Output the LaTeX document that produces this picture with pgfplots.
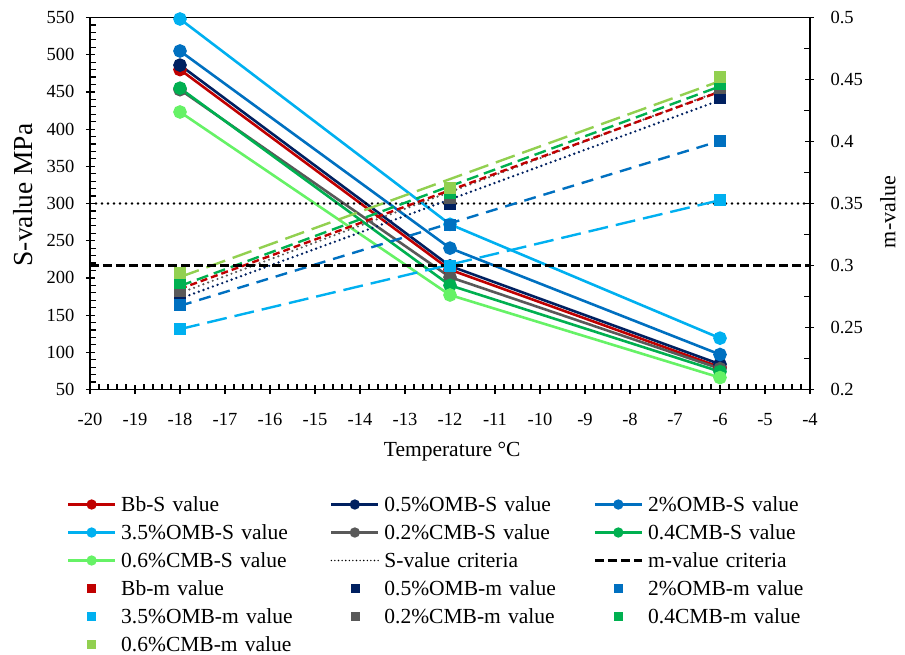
\documentclass[border=0pt]{standalone}
\usepackage{fontspec}
\setmainfont{Liberation Serif}
\usepackage{pgfplots}
\pgfplotsset{compat=1.18}

\definecolor{cBb}{HTML}{C00000}
\definecolor{cOa}{HTML}{002060}
\definecolor{cOb}{HTML}{0070C0}
\definecolor{cOc}{HTML}{00B0F0}
\definecolor{cCa}{HTML}{595959}
\definecolor{cCb}{HTML}{00B050}
\definecolor{cCc}{HTML}{66F266}
\definecolor{cCm}{HTML}{92D050}

\pgfplotsset{
  common/.style={
    scale only axis, width=720pt, height=372pt,
    at={(0pt,0pt)}, anchor=south west,
    xmin=-20, xmax=-4, clip=false,
    tick align=inside, major tick length=9pt, minor tick length=6pt,
    tick style={black, line width=1.2pt},
    axis line style={black, line width=1.2pt},
    /pgf/number format/assume math mode=true,
    tick label style={font=\fontsize{18.5}{22}\selectfont},
  },
  sline/.style={line width=2.6pt, mark=*, mark size=5.5pt, mark options={solid}},
  slegend/.style={legend image code/.code={
      \draw[line width=2.2pt, mark size=4pt, mark repeat=2, mark phase=2]
        plot coordinates {(0pt,6.5pt) (23.5pt,6.5pt) (47pt,6.5pt)};}},
  mpts/.style={only marks, mark=square*, mark size=5.5pt,
    legend image code/.code={\path (0pt,6.5pt) (47pt,6.5pt);
      \draw[only marks, mark size=4pt] plot coordinates {(23.5pt,6.5pt)};}},
  crit/.style={legend image code/.code={\draw (0pt,6.5pt) -- (47pt,6.5pt);}},
  trend/.style={line width=2.4pt, forget plot},
}

\begin{document}
\begin{tikzpicture}
\useasboundingbox (-90pt,-264.5pt) rectangle (815pt,389.5pt);

% ---------- left axis: S-values ----------
\begin{axis}[common,
  ymin=50, ymax=550, ytick={50,100,...,550}, minor y tick num=4,
  xtick={-20,-19,...,-4}, minor x tick num=4,
  xtick pos=left, ytick pos=left,
  major x tick style={yshift=-4pt},
  major y tick style={black, line width=1.2pt, xshift=-4pt},
  minor y tick style={black, line width=1.2pt},
  xticklabel style={yshift=-20pt}, yticklabel style={xshift=-12pt},
  xlabel={Temperature °C}, ylabel={S-value MPa},
  xlabel style={font=\fontsize{21.5}{24}\selectfont, at={(axis description cs:0.503,-0.168)}, anchor=center},
  ylabel style={font=\fontsize{27.5}{30}\selectfont, at={(axis description cs:-0.093,0.523)}, anchor=center},
]
\addplot[sline, color=cBb] coordinates {(-18,480) (-12,211) (-6,80)};
\addplot[sline, color=cOa] coordinates {(-18,486) (-12,216) (-6,84)};
\addplot[sline, color=cOb] coordinates {(-18,505) (-12,240) (-6,97)};
\addplot[sline, color=cOc] coordinates {(-18,548) (-12,272) (-6,119)};
\addplot[sline, color=cCa] coordinates {(-18,453) (-12,201) (-6,78)};
\addplot[sline, color=cCb] coordinates {(-18,455) (-12,190) (-6,74)};
\addplot[sline, color=cCc] coordinates {(-18,423) (-12,177) (-6,66)};
\addplot[black, line width=2.6pt, dash pattern=on 0pt off 6pt, line cap=round] coordinates {(-20,300) (-4,300)};
\end{axis}

% ---------- right axis: m-values ----------
\begin{axis}[common,
  ymin=0.2, ymax=0.5, ytick={0.2,0.25,0.3,0.35,0.4,0.45,0.5}, minor y tick num=1,
  axis x line=none, axis y line*=right,
  major y tick style={black, line width=1.2pt, xshift=4pt},
  minor y tick style={black, line width=1.2pt},
  yticklabel style={xshift=17pt},
  ylabel={m-value},
  ylabel style={font=\fontsize{22}{26}\selectfont, at={(axis description cs:1.108,0.477)}, anchor=center},
  legend columns=3,
  legend style={draw=none, fill=none, inner sep=0pt, outer sep=0pt,
    at={(axis description cs:-0.0319,-0.2863)}, anchor=north west,
    font=\fontsize{21.5}{24}\selectfont,
    row sep=8pt,
    nodes={inner xsep=2.5pt, inner ysep=0pt, text width=204pt, align=left,
           text height=15pt, text depth=5pt, anchor=base west},
    /tikz/every odd column/.append style={column sep=2.5pt},
    /tikz/every even column/.append style={column sep=2.5pt},
  },
]
\addlegendimage{sline, cBb, slegend}\addlegendentry{Bb-S value}
\addlegendimage{sline, cOa, slegend}\addlegendentry{0.5\%OMB-S value}
\addlegendimage{sline, cOb, slegend}\addlegendentry{2\%OMB-S value}
\addlegendimage{sline, cOc, slegend}\addlegendentry{3.5\%OMB-S value}
\addlegendimage{sline, cCa, slegend}\addlegendentry{0.2\%CMB-S value}
\addlegendimage{sline, cCb, slegend}\addlegendentry{0.4CMB-S value}
\addlegendimage{sline, cCc, slegend}\addlegendentry{0.6\%CMB-S value}
\addlegendimage{black, line width=1.6pt, dash pattern=on 0pt off 3.6pt, line cap=round, crit}\addlegendentry{S-value criteria}

% trendlines of m-values
\addplot[trend, cCa, dash pattern=on 0pt off 5pt, line cap=round] coordinates {(-18,0.2778) (-6,0.4408)};
\addplot[trend, cBb, dash pattern=on 7pt off 4pt] coordinates {(-18,0.2812) (-6,0.4402)};
\addplot[trend, cOa, dash pattern=on 0pt off 5pt, line cap=round, line width=2.6pt] coordinates {(-18,0.2733) (-6,0.4333)};
\addplot[trend, cOb, dash pattern=on 12pt off 8pt] coordinates {(-18,0.2675) (-6,0.4005)};
\addplot[trend, cOc, dash pattern=on 20pt off 8pt] coordinates {(-18,0.2487) (-6,0.3527)};
\addplot[trend, cCb, dash pattern=on 12pt off 6pt] coordinates {(-18,0.2835) (-6,0.4445)};
\addplot[trend, cCm, dash pattern=on 20pt off 8pt] coordinates {(-18,0.2907) (-6,0.4487)};

\addplot[black, line width=2.8pt, dash pattern=on 9pt off 4pt, crit] coordinates {(-20,0.3) (-4,0.3)};
\addlegendentry{m-value criteria}

\addplot[mpts, cBb] coordinates {(-18,0.283) (-12,0.357) (-6,0.442)};
\addlegendentry{Bb-m value}
\addplot[mpts, cOa] coordinates {(-18,0.275) (-12,0.350) (-6,0.435)};
\addlegendentry{0.5\%OMB-m value}
\addplot[mpts, cOb] coordinates {(-18,0.268) (-12,0.333) (-6,0.401)};
\addlegendentry{2\%OMB-m value}
\addplot[mpts, cOc] coordinates {(-18,0.249) (-12,0.300) (-6,0.353)};
\addlegendentry{3.5\%OMB-m value}
\addplot[mpts, cCa] coordinates {(-18,0.280) (-12,0.355) (-6,0.443)};
\addlegendentry{0.2\%CMB-m value}
\addplot[mpts, cCb] coordinates {(-18,0.286) (-12,0.359) (-6,0.447)};
\addlegendentry{0.4CMB-m value}
\addplot[mpts, cCm] coordinates {(-18,0.294) (-12,0.363) (-6,0.452)};
\addlegendentry{0.6\%CMB-m value}
\end{axis}
\end{tikzpicture}
\end{document}
